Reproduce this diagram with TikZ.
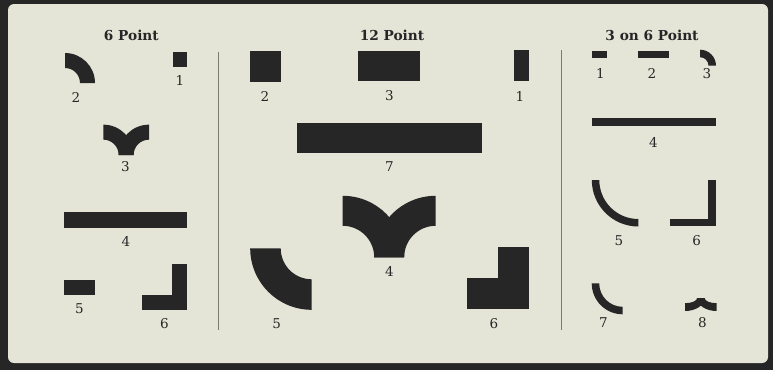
\documentclass[tikz,border=0pt]{standalone}
\usepackage{fontspec}
\setmainfont{DejaVu Serif}
\definecolor{paper}{HTML}{E4E4D7}
\definecolor{ink}{HTML}{262626}
\definecolor{rulegrey}{HTML}{7A7A72}
% quarter ring: centre x, centre y (pixel, downward), outer R, inner r, start angle
\newcommand\qringx[5]{\fill[ink,shift={(#1,-#2)}] (#5:#3) arc[start angle=#5,end angle=#5+90,radius=#3] -- (#5+90:#4) arc[start angle=#5+90,end angle=#5,radius=#4] -- cycle;}
% elliptic quarter ring: cx, cy, Rx, Ry, rx, ry, start angle
\newcommand\eringx[7]{\fill[ink,shift={(#1,-#2)}] (#7:#3 and #4) arc[start angle=#7,end angle=#7+90,x radius=#3,y radius=#4] -- (#7+90:#5 and #6) arc[start angle=#7+90,end angle=#7,x radius=#5,y radius=#6] -- cycle;}
\newcommand\blk[4]{\fill[ink] (#1,-#2) rectangle (#3,-#4);}
\begin{document}
\begin{tikzpicture}[x=1pt,y=1pt,
  lbl/.style={font=\fontsize{13.5}{15}\selectfont, inner sep=0pt, text=ink},
  ttl/.style={font=\fontsize{13.7}{16}\selectfont\bfseries, inner sep=0pt, text=ink, anchor=base},
  divider/.style={draw=rulegrey, line width=0.9pt}]
\useasboundingbox (0,0) rectangle (773,-370);
% frame
\fill[ink] (0,0) rectangle (773,-370);
\fill[paper, rounded corners=6pt] (8,-4) rectangle (768,-363);
% dividers
\coordinate (d1a) at (218,-52); \coordinate (d1b) at (218,-330);
\coordinate (d2a) at (561,-50); \coordinate (d2b) at (561,-330);
\draw[divider] (d1a) -- (d1b);
\draw[divider] (d2a) -- (d2b);
% titles
\node[ttl] (t6) at (131.3,-40.5) {6 Point};
\node[ttl] (t12) at (392,-40.5) {12 Point};
\node[ttl] (t36) at (652,-40.5) {3 on 6 Point};
% ---------- 6 Point ----------
\blk{173}{52}{187}{67}
\qringx{65}{83}{30}{15}{0}
\qringx{103.3}{155}{30.35}{15.35}{0}
\qringx{149}{155}{30.35}{15.35}{90}
\blk{64}{211.7}{187.3}{227.7}
\blk{64}{280}{95}{295}
\blk{141.7}{295}{187.3}{310}
\blk{172.3}{264}{187.3}{310}
\node[lbl] (a1) at (180,-80) {1};
\node[lbl] (a2) at (76,-97) {2};
\node[lbl] (a3) at (125.3,-167) {3};
\node[lbl] (a4) at (126,-241.7) {4};
\node[lbl] (a5) at (79.3,-309) {5};
\node[lbl] (a6) at (164.3,-323.3) {6};
% ---------- 12 Point ----------
\blk{250}{51}{280.7}{81.7}
\blk{358.3}{50.7}{420}{81}
\blk{514}{50}{529}{81}
\blk{296.7}{122.7}{481.7}{153.3}
\qringx{342.7}{257.3}{61.5}{31.5}{0}
\qringx{435.7}{257.3}{61.5}{31.5}{90}
\qringx{311.7}{248.3}{61.5}{31}{180}
\blk{467.3}{278.3}{529}{309}
\blk{498.3}{247.3}{529}{309}
\node[lbl] (b2) at (265,-96) {2};
\node[lbl] (b3) at (389.3,-96) {3};
\node[lbl] (b1) at (520,-96) {1};
\node[lbl] (b7) at (389.3,-166.7) {7};
\node[lbl] (b4) at (389.3,-271.7) {4};
\node[lbl] (b5) at (276.7,-323.3) {5};
\node[lbl] (b6) at (494,-323.3) {6};
% ---------- 3 on 6 Point ----------
\blk{591.7}{50.7}{606.7}{57.5}
\blk{638.3}{50.7}{669.3}{58}
\qringx{700}{65.7}{16}{8.5}{0}
\blk{591.7}{117.7}{716}{125.5}
\qringx{638.3}{180}{46.5}{39}{180}
\blk{670}{218.5}{716}{226}
\blk{708.3}{180}{716}{226}
\qringx{622.7}{283.3}{31}{23.5}{180}
\eringx{685}{298}{19.6}{13}{12.1}{5.2}{270}
\eringx{716.7}{298}{19.6}{13}{12.1}{5.2}{180}
\node[lbl] (c1) at (600.5,-73.7) {1};
\node[lbl] (c2) at (651.8,-73.7) {2};
\node[lbl] (c3) at (707,-73.7) {3};
\node[lbl] (c4) at (653.3,-142.7) {4};
\node[lbl] (c5) at (619,-240.5) {5};
\node[lbl] (c6) at (696.7,-240.5) {6};
\node[lbl] (c7) at (603.3,-322.5) {7};
\node[lbl] (c8) at (702.5,-322.5) {8};
\end{tikzpicture}
\end{document}
